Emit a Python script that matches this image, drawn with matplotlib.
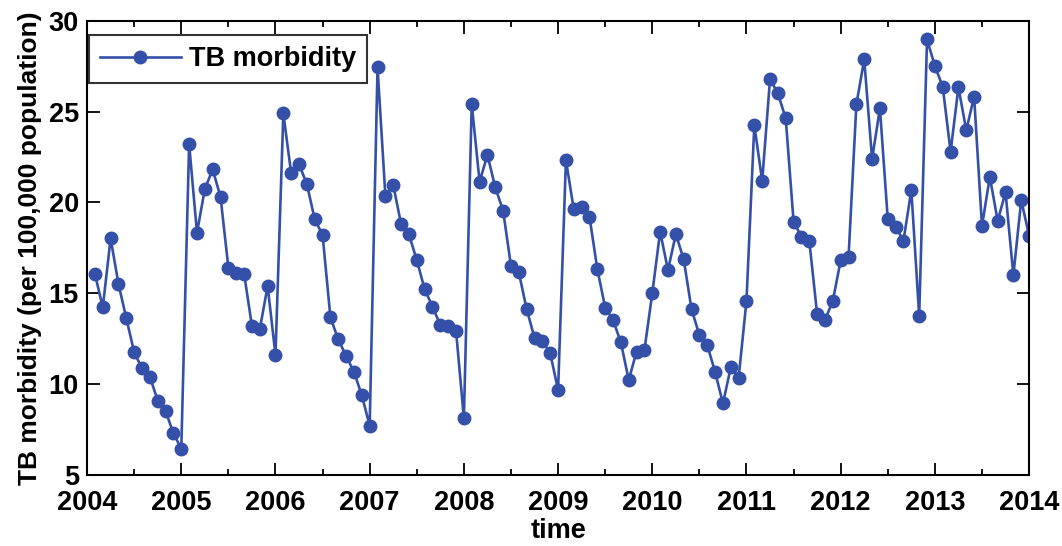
import numpy as np
import matplotlib.pyplot as plt
from matplotlib.ticker import MultipleLocator

plt.rcParams['font.family'] = ['Liberation Sans', 'DejaVu Sans']
plt.rcParams['font.weight'] = 'bold'

# monthly TB morbidity, Jan 2004 .. Dec 2013 (per 100,000 population)
morbidity = [
    16.06, 14.23, 18.02, 15.51, 13.62, 11.75, 10.87, 10.41, 9.09, 8.52, 7.29, 6.45,
    23.21, 18.33, 20.74, 21.82, 20.30, 16.41, 16.13, 16.08, 13.20, 13.02, 15.40, 11.60,
    24.90, 21.60, 22.10, 21.01, 19.07, 18.21, 13.67, 12.46, 11.55, 10.68, 9.38, 7.71,
    27.43, 20.37, 20.96, 18.81, 18.24, 16.83, 15.23, 14.26, 13.25, 13.20, 12.94, 8.12,
    25.42, 21.14, 22.61, 20.83, 19.54, 16.50, 16.15, 14.12, 12.55, 12.39, 11.69, 9.68,
    22.33, 19.62, 19.76, 19.21, 16.33, 14.21, 13.53, 12.30, 10.23, 11.79, 11.88, 15.00,
    18.39, 16.28, 18.26, 16.87, 14.13, 12.70, 12.15, 10.68, 8.94, 10.92, 10.35, 14.59,
    24.26, 21.18, 26.79, 26.00, 24.63, 18.94, 18.11, 17.89, 13.86, 13.53, 14.59, 16.81,
    16.98, 25.40, 27.87, 22.39, 25.18, 19.07, 18.66, 17.89, 20.68, 13.75, 28.97, 27.51,
    26.37, 22.79, 26.33, 23.98, 25.82, 18.70, 21.41, 18.99, 20.56, 15.99, 20.13, 18.17,
]
start_year = 2004
year_ticks = list(range(2004, 2015))
y_ticks = [5, 10, 15, 20, 25, 30]

time = start_year + np.arange(1, len(morbidity) + 1) / 12.0

fig = plt.figure(figsize=(10.62, 5.46), dpi=100)
ax = fig.add_axes([0.082, 0.130, 0.887, 0.832])

blue = '#3450a8'
ax.plot(time, morbidity, '-o', color=blue, lw=1.9, ms=9, label='TB morbidity')

ax.set_xlim(2004, 2014)
ax.set_ylim(5, 30)
ax.set_xticks(year_ticks)
ax.set_yticks(y_ticks)
ax.xaxis.set_minor_locator(MultipleLocator(0.5))
ax.tick_params(which='both', direction='in', top=True, right=True,
               labelsize=19.5, width=1.3)
ax.tick_params(which='major', length=9)
ax.tick_params(axis='x', which='major', pad=11)
ax.tick_params(axis='y', which='major', pad=6)
ax.tick_params(which='minor', length=4)
ax.tick_params(axis='y', which='minor', length=0)
for s in ax.spines.values():
    s.set_linewidth(1.5)

ax.set_xlabel('time', fontsize=19.5, fontweight='bold', labelpad=1)
ax.set_ylabel('TB morbidity (per 100,000 population)', fontsize=19,
              fontweight='bold', labelpad=5)

leg = ax.legend(loc='upper left', bbox_to_anchor=(0.002, 0.968), borderaxespad=0,
                fancybox=False, edgecolor='black', fontsize=19.5, handlelength=3.0,
                handletextpad=0.3, borderpad=0.4)
leg.get_frame().set_linewidth(1.5)

fig.savefig('out.png', dpi=100)
